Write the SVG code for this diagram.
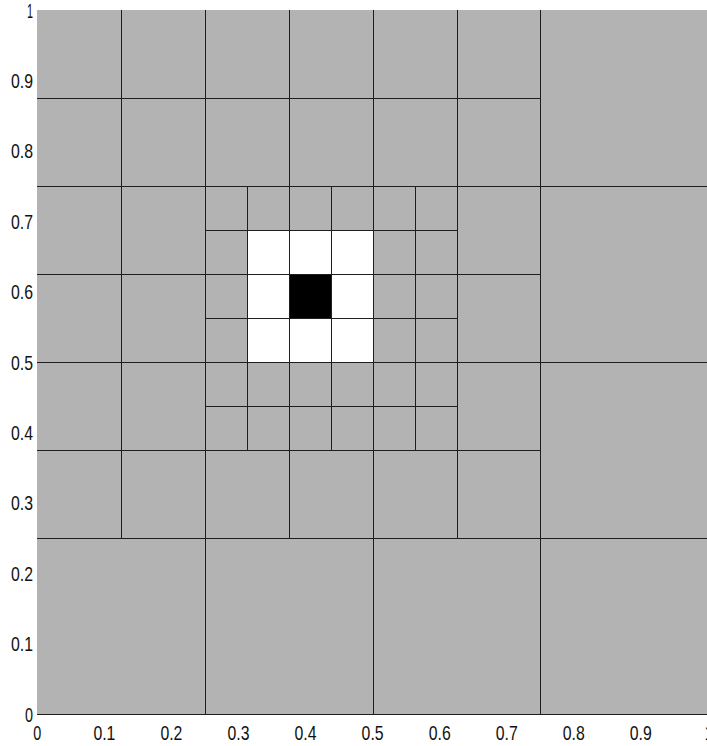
<svg xmlns="http://www.w3.org/2000/svg" width="707" height="746" viewBox="0 0 707 746">
<style>
.g{stroke:#1e1e1e;stroke-width:1;fill:none}
.t{font-family:"Liberation Sans",Arial,sans-serif;font-size:21px;fill:#111}
.yl{text-anchor:end}
.xl{text-anchor:middle}
</style>
<rect width="707" height="746" fill="#ffffff"/>
<g id="plot">
<rect x="37" y="10" width="671" height="704" fill="#b3b3b3"/>
<rect x="247" y="230" width="126" height="132" fill="#ffffff"/>
<rect x="289" y="274" width="42" height="44" fill="#000000"/>
</g>
<g id="grid" class="g">
<!-- full lines -->
<line x1="205.5" y1="10" x2="205.5" y2="714"/>
<line x1="373.5" y1="10" x2="373.5" y2="714"/>
<line x1="540.5" y1="10" x2="540.5" y2="714"/>
<line x1="37" y1="186.5" x2="708" y2="186.5"/>
<line x1="37" y1="362.5" x2="708" y2="362.5"/>
<line x1="37" y1="538.5" x2="708" y2="538.5"/>
<line x1="37" y1="714.5" x2="708" y2="714.5"/>
<!-- 0.125 level -->
<line x1="121.5" y1="10" x2="121.5" y2="538"/>
<line x1="289.5" y1="10" x2="289.5" y2="538"/>
<line x1="457.5" y1="10" x2="457.5" y2="538"/>
<line x1="37" y1="98.5" x2="540" y2="98.5"/>
<line x1="37" y1="274.5" x2="540" y2="274.5"/>
<line x1="37" y1="450.5" x2="540" y2="450.5"/>
<!-- 0.0625 level -->
<line x1="247.5" y1="186" x2="247.5" y2="450"/>
<line x1="331.5" y1="186" x2="331.5" y2="450"/>
<line x1="415.5" y1="186" x2="415.5" y2="450"/>
<line x1="205" y1="230.5" x2="457" y2="230.5"/>
<line x1="205" y1="318.5" x2="457" y2="318.5"/>
<line x1="205" y1="406.5" x2="457" y2="406.5"/>
</g>
<g id="yticks" class="t yl">
<text x="33" y="722" textLength="8" lengthAdjust="spacingAndGlyphs">0</text>
<text x="33" y="651" textLength="22" lengthAdjust="spacingAndGlyphs">0.1</text>
<text x="33" y="581" textLength="22" lengthAdjust="spacingAndGlyphs">0.2</text>
<text x="33" y="510" textLength="22" lengthAdjust="spacingAndGlyphs">0.3</text>
<text x="33" y="440" textLength="22" lengthAdjust="spacingAndGlyphs">0.4</text>
<text x="33" y="370" textLength="22" lengthAdjust="spacingAndGlyphs">0.5</text>
<text x="33" y="299" textLength="22" lengthAdjust="spacingAndGlyphs">0.6</text>
<text x="33" y="229" textLength="22" lengthAdjust="spacingAndGlyphs">0.7</text>
<text x="33" y="158" textLength="22" lengthAdjust="spacingAndGlyphs">0.8</text>
<text x="33" y="88" textLength="22" lengthAdjust="spacingAndGlyphs">0.9</text>
<text x="33" y="18" textLength="6" lengthAdjust="spacingAndGlyphs">1</text>
</g>
<g id="xticks" class="t xl">
<text x="37.3" y="740" textLength="8" lengthAdjust="spacingAndGlyphs">0</text>
<text x="104.4" y="740" textLength="22" lengthAdjust="spacingAndGlyphs">0.1</text>
<text x="171.4" y="740" textLength="22" lengthAdjust="spacingAndGlyphs">0.2</text>
<text x="238.5" y="740" textLength="22" lengthAdjust="spacingAndGlyphs">0.3</text>
<text x="305.5" y="740" textLength="22" lengthAdjust="spacingAndGlyphs">0.4</text>
<text x="372.6" y="740" textLength="22" lengthAdjust="spacingAndGlyphs">0.5</text>
<text x="439.7" y="740" textLength="22" lengthAdjust="spacingAndGlyphs">0.6</text>
<text x="506.7" y="740" textLength="22" lengthAdjust="spacingAndGlyphs">0.7</text>
<text x="573.8" y="740" textLength="22" lengthAdjust="spacingAndGlyphs">0.8</text>
<text x="640.8" y="740" textLength="22" lengthAdjust="spacingAndGlyphs">0.9</text>
<text x="707.9" y="740" textLength="6" lengthAdjust="spacingAndGlyphs">1</text>
</g>
</svg>
